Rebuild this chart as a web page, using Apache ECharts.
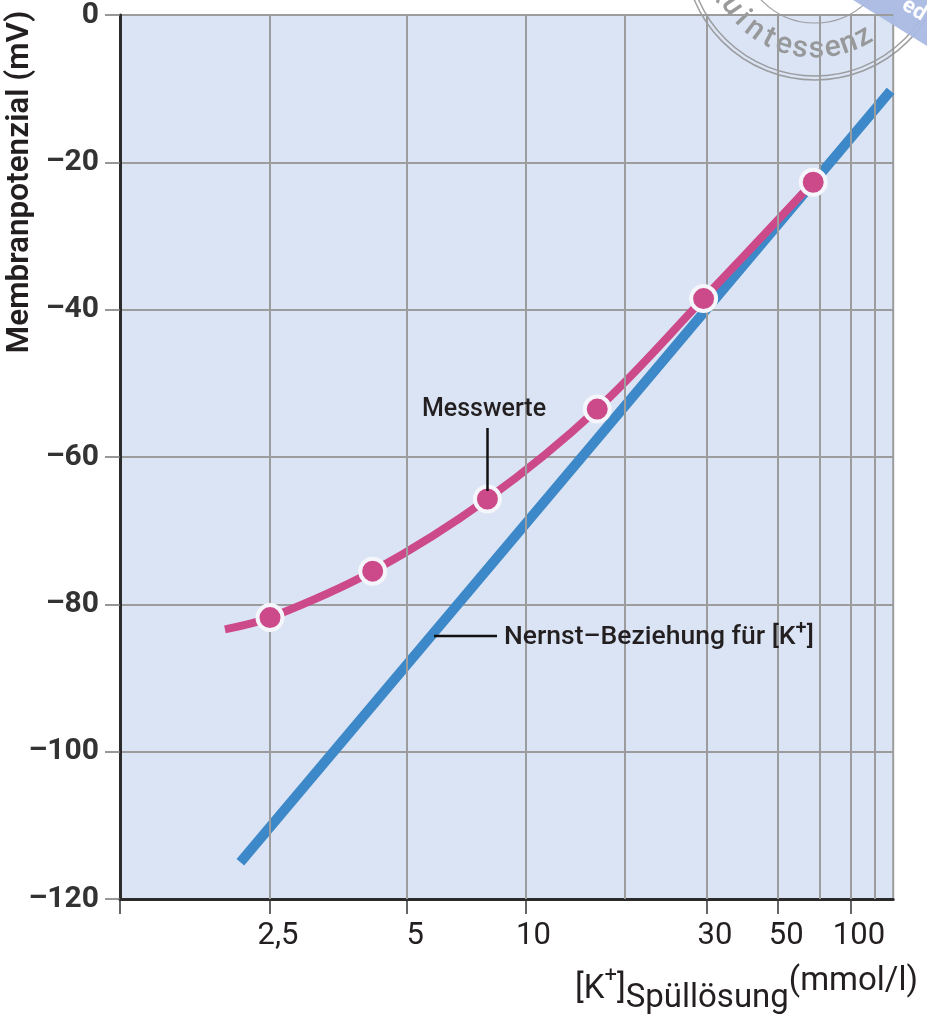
<!DOCTYPE html>
<html>
<head>
<meta charset="utf-8">
<script src="https://cdn.jsdelivr.net/npm/echarts@6/dist/echarts.min.js"></script>
<style>
html,body{margin:0;padding:0;background:#ffffff;}
#chart{width:927px;height:1021px;}
</style>
</head>
<body>
<div id="chart"></div>
<script>
// ---------- data ----------
// measured membrane potentials (Messwerte)
const messConc = [2.5, 4.2, 8, 16.5, 29.5, 66.5];           // mmol/l
const messMv   = [-81.8, -75.5, -65.7, -53.5, -38.5, -22.7]; // mV
// start of the fitted curve (left of the first measurement)
const curveStartConc = 2.03;
const curveStartMv = -83.4;
// Nernst relation for K+ (straight line as drawn)
const nernstConc = [2.18, 151];
const nernstMv   = [-115, -10.3];
// axis ticks
const xLabelValues = [2.5, 5, 10, 30, 50, 100];
const xLabelTexts  = ['2,5', '5', '10', '30', '50', '100'];
const xGridValues  = [2.5, 5, 10, 20, 30, 50, 70, 100, 130];
const yTickValues  = [0, -20, -40, -60, -80, -100, -120];

// ---------- x scale (hand-drawn, piecewise logarithmic) ----------
const xScaleConc = [1.25, 2.5, 5, 10, 20, 30, 50, 70, 100, 130, 155];
const xScaleUnit = [0, 150, 287.2, 405.5, 504.8, 587, 658.2, 699.5, 731, 755.2, 773.2];
function xPos(c) {
  const n = xScaleConc.length;
  let i = 0;
  if (c <= xScaleConc[0]) i = 0;
  else if (c >= xScaleConc[n - 1]) i = n - 2;
  else { while (i < n - 2 && c > xScaleConc[i + 1]) i++; }
  const l0 = Math.log(xScaleConc[i]), l1 = Math.log(xScaleConc[i + 1]);
  const f = (Math.log(c) - l0) / (l1 - l0);
  return xScaleUnit[i] + f * (xScaleUnit[i + 1] - xScaleUnit[i]);
}
const xMin = xScaleUnit[0], xMax = xScaleUnit[xScaleUnit.length - 1];

const curveData = [[xPos(curveStartConc), curveStartMv]].concat(messConc.map((c, i) => [xPos(c), messMv[i]]));
const messData = messConc.map((c, i) => [xPos(c), messMv[i]]);
const nernstData = nernstConc.map((c, i) => [xPos(c), nernstMv[i]]);
const labelPos = xLabelValues.map(xPos);
const tickPos = [xMin].concat(labelPos);

const PINK = '#cd4a8a', BLUE = '#3d88c8', GRID = '#9c9c9c', AXIS = '#2b2b2b', TXT = '#231f20';
const FONT = 'Roboto, "Noto Sans", sans-serif';

const chart = echarts.init(document.getElementById('chart'), null, {renderer: 'canvas'});

// watermark stamp letters along an arc
const stamp = [];
const scx = 815, scy = -51;
stamp.push({type: 'circle', shape: {cx: scx, cy: scy, r: 131}, style: {fill: null, stroke: '#8f8f8f', lineWidth: 1.5, opacity: 0.85}});
stamp.push({type: 'circle', shape: {cx: scx, cy: scy, r: 127}, style: {fill: null, stroke: '#8f8f8f', lineWidth: 1.5, opacity: 0.85}});
stamp.push({type: 'circle', shape: {cx: scx, cy: scy, r: 74}, style: {fill: null, stroke: '#8f8f8f', lineWidth: 1.2, opacity: 0.85}});
const word = 'Quintessenz';
for (let k = 0; k < word.length; k++) {
  const ang = (155 - k * 9.4) * Math.PI / 180;
  stamp.push({
    type: 'text',
    x: scx + 101 * Math.cos(ang), y: scy + 101 * Math.sin(ang),
    rotation: (Math.PI / 2 - ang),
    style: {text: word[k], fill: '#8f8f8f', opacity: 0.9, font: '500 30px ' + FONT, align: 'center', verticalAlign: 'middle'}
  });
}
stamp.push({type: 'polygon', shape: {points: [[853, 0], [927, 0], [927, 46]]}, style: {fill: '#a9b9e3', opacity: 0.95}});
stamp.push({type: 'text', x: 914, y: 10, rotation: -0.55, style: {text: 'ed', fill: '#ffffff', font: 'bold 22px ' + FONT, align: 'center', verticalAlign: 'middle'}});

chart.setOption({
  animation: false,
  backgroundColor: '#ffffff',
  grid: {left: 120, right: 927 - 120 - (xMax - xMin), top: 14, bottom: 122, show: true,
         backgroundColor: '#dbe4f4', borderColor: GRID, borderWidth: 2},
  xAxis: {
    type: 'value', min: xMin, max: xMax,
    axisLine: {show: true, onZero: false, lineStyle: {color: AXIS, width: 3}},
    axisTick: {show: true, customValues: tickPos, length: 15, lineStyle: {color: '#333', width: 1.5}},
    axisLabel: {customValues: labelPos, margin: 22, color: TXT, fontFamily: FONT, fontSize: 31,
                padding: [0, 0, 0, 16],
                formatter: function (v) {
                  for (let i = 0; i < labelPos.length; i++) if (Math.abs(labelPos[i] - v) < 0.01) return xLabelTexts[i];
                  return '';
                }},
    splitLine: {show: false}
  },
  yAxis: {
    type: 'value', min: -120, max: 0, interval: 20,
    axisLine: {show: true, lineStyle: {color: AXIS, width: 3}},
    axisTick: {show: true, length: 15, lineStyle: {color: '#777', width: 1.5}},
    axisLabel: {margin: 21, color: '#333', fontFamily: FONT, fontWeight: 'bold', fontSize: 30,
                formatter: function (v) { return v < 0 ? '\u2013' + Math.abs(v) : String(v); }},
    splitLine: {show: true, lineStyle: {color: GRID, width: 2}}
  },
  series: [
    {
      type: 'line', data: [], z: 1, silent: true,
      markLine: {silent: true, symbol: ['none', 'none'], label: {show: false},
                 lineStyle: {color: GRID, width: 2, type: 'solid'},
                 emphasis: {disabled: true},
                 data: xGridValues.map(c => ({xAxis: xPos(c)}))}
    },
    {
      name: 'Nernst', type: 'line', data: nernstData, z: 3, showSymbol: false, silent: true,
      lineStyle: {color: BLUE, width: 10, cap: 'butt'}
    },
    {
      name: 'Kurve', type: 'line', data: curveData, z: 4, smooth: 0.35, showSymbol: false, silent: true,
      lineStyle: {color: PINK, width: 8, cap: 'butt'}
    },
    {
      name: 'Messwerte', type: 'scatter', data: messData, z: 5, symbolSize: 25, silent: true,
      itemStyle: {color: PINK, borderColor: '#f4f6fb', borderWidth: 4, opacity: 1}
    }
  ],
  graphic: [
    // y axis title
    {type: 'text', x: 20, y: 182, rotation: Math.PI / 2, z: 10,
     style: {text: 'Membranpotenzial (mV)', fill: TXT, font: '600 31.5px ' + FONT, align: 'center', verticalAlign: 'middle'}},
    // x axis title
    {type: 'text', x: 575, y: 990, z: 10,
     style: {text: '{a|[K}{sup|+}{a|]}{sub|Spüllösung}{hi|(mmol/l)}',
             align: 'left', verticalAlign: 'middle',
             rich: {
               a: {fontFamily: FONT, fontSize: 33, lineHeight: 50, verticalAlign: 'middle', fill: TXT, color: TXT},
               hi: {fontFamily: FONT, fontSize: 33, lineHeight: 44, verticalAlign: 'top', fill: TXT, color: TXT},
               sup: {fontFamily: FONT, fontSize: 22, lineHeight: 30, verticalAlign: 'top', fill: TXT, color: TXT},
               sub: {fontFamily: FONT, fontSize: 33, lineHeight: 26, verticalAlign: 'bottom', fill: TXT, color: TXT}
             }}},
    // Messwerte annotation
    {type: 'text', x: 484, y: 410, z: 10,
     style: {text: 'Messwerte', fill: TXT, font: '500 25px ' + FONT, align: 'center', verticalAlign: 'middle'}},
    {type: 'line', z: 10, shape: {x1: 487.5, y1: 428, x2: 487.5, y2: 491}, style: {stroke: '#111', lineWidth: 2.5}},
    // Nernst annotation
    {type: 'line', z: 10, shape: {x1: 434, y1: 636, x2: 497, y2: 636}, style: {stroke: '#111', lineWidth: 2.5}},
    {type: 'text', x: 504, y: 637, z: 10,
     style: {text: '{a|Nernst\u2013Beziehung für [K}{sup|+}{a|]}', align: 'left', verticalAlign: 'middle',
             rich: {
               a: {fontFamily: FONT, fontWeight: 500, fontSize: 26.5, lineHeight: 36, verticalAlign: 'middle', fill: TXT, color: TXT},
               sup: {fontFamily: FONT, fontWeight: 500, fontSize: 20, lineHeight: 24, verticalAlign: 'top', fill: TXT, color: TXT}
             }}},
    {type: 'group', z: 20, children: stamp}
  ]
});
</script>
</body>
</html>
